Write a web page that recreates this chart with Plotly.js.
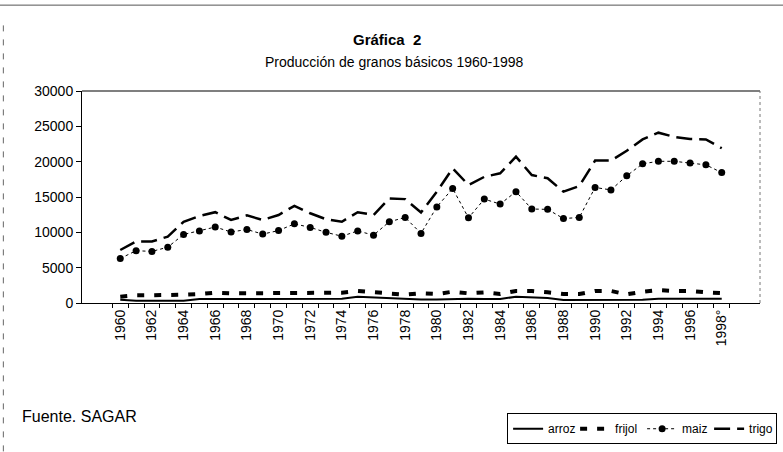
<!DOCTYPE html>
<html>
<head>
<meta charset="utf-8">
<script src="https://cdn.plot.ly/plotly-3.0.1.min.js"></script>
<style>
html,body{margin:0;padding:0;background:#fff;}
#chart{width:783px;height:452px;}
</style>
</head>
<body>
<div id="chart"></div>
<script>
const years = ['1960','1961','1962','1963','1964','1965','1966','1967','1968','1969',
  '1970','1971','1972','1973','1974','1975','1976','1977','1978','1979',
  '1980','1981','1982','1983','1984','1985','1986','1987','1988','1989',
  '1990','1991','1992','1993','1994','1995','1996','1997','1998°'];

const arroz = [450,330,330,320,330,560,560,550,560,560,
  560,550,560,560,600,900,800,700,500,500,
  500,600,600,550,550,900,850,700,430,430,
  430,420,430,450,600,600,600,600,600];

const frijol = [890,1090,1090,1090,1180,1270,1460,1370,1370,1370,
  1370,1370,1460,1370,1460,1700,1560,1370,1180,1370,
  1270,1600,1370,1510,1270,1700,1700,1510,1270,1270,
  1700,1700,1230,1600,1840,1700,1700,1510,1400];

const maiz = [6300,7400,7300,7900,9700,10200,10750,10050,10400,9750,
  10250,11200,10700,10000,9450,10200,9600,11500,12100,9850,
  13600,16200,12050,14700,14000,15750,13300,13250,11950,12100,
  16350,16000,18000,19700,20050,20050,19800,19550,18450];

const trigo = [7500,8700,8700,9400,11500,12300,12850,11750,12400,11750,
  12450,13750,12700,11850,11500,12850,12450,14800,14700,12800,
  15750,19050,16700,17850,18350,20700,18100,17650,15750,16550,
  20150,20150,21550,23150,24100,23500,23200,23150,21900];

const yTicks = [0,5000,10000,15000,20000,25000,30000];
const yTickText = yTicks.map(v => String(v));
const tickText = years.map((y,i) => (i % 2 === 0 ? y : ''));

const FONT = 'Liberation Sans, Arial, sans-serif';

const traces = [
  {name:'arroz', x:years, y:arroz, type:'scatter', mode:'lines',
   line:{color:'#000', width:2}},
  {name:'frijol', x:years, y:frijol, type:'scatter', mode:'lines',
   line:{color:'#000', width:4, dash:'7px,10px'}},
  {name:'maiz', x:years, y:maiz, type:'scatter', mode:'lines+markers',
   line:{color:'#000', width:1, dash:'dot'},
   marker:{color:'#000', size:7, symbol:'circle'}},
  {name:'trigo', x:years, y:trigo, type:'scatter', mode:'lines',
   line:{color:'#000', width:2.5, dash:'16px,7px'}}
];

const layout = {
  width:783, height:452,
  margin:{l:82, r:23, t:91, b:149, autoexpand:false},
  paper_bgcolor:'#fff', plot_bgcolor:'#fff',
  font:{family:FONT, color:'#000', size:13},
  showlegend:true,
  legend:{orientation:'h', x:0.627, xanchor:'left', y:-0.52, yanchor:'top',
    bordercolor:'#000', borderwidth:1, bgcolor:'#fff',
    font:{family:FONT, size:12, color:'#000'}, tracegroupgap:0, itemwidth:30,
    entrywidth:22, entrywidthmode:'pixels'},
  xaxis:{type:'category', categoryorder:'array', categoryarray:years,
    tickmode:'array', tickvals:years, ticktext:tickText, tickson:'boundaries',
    ticks:'outside', ticklen:4, tickcolor:'#000', tickwidth:1,
    tickangle:-90, showline:true, linecolor:'#000', linewidth:1,
    showgrid:false, zeroline:false,
    tickfont:{family:FONT, size:14, color:'#000'}},
  yaxis:{range:[0,30000], tickmode:'array', tickvals:yTicks, ticktext:yTickText,
    ticks:'outside', ticklen:5, tickcolor:'#000', showline:true,
    linecolor:'#000', linewidth:1, showgrid:false, zeroline:false,
    tickfont:{family:FONT, size:14, color:'#000'}},
  shapes:[
    {type:'line', xref:'paper', yref:'paper', x0:0, x1:1, y0:1, y1:1,
     line:{color:'#000', width:1.2}},
    {type:'line', xref:'paper', yref:'paper', x0:1, x1:1, y0:0, y1:1,
     line:{color:'#777', width:1, dash:'dot'}},
    {type:'line', xref:'paper', yref:'paper', x0:-0.121, x1:1.035, y0:1.405, y1:1.405,
     line:{color:'#555', width:1}},
    {type:'line', xref:'paper', yref:'paper', x0:-0.116, x1:-0.116, y0:-0.70, y1:1.33,
     line:{color:'#666', width:1, dash:'6px,8px'}}
  ],
  annotations:[
    {text:'<b>Gráfica  2</b>', xref:'paper', yref:'paper', x:0.45, y:1.245,
     xanchor:'center', yanchor:'middle', showarrow:false,
     font:{family:FONT, size:15, color:'#000'}},
    {text:'Producción de granos básicos 1960-1998', xref:'paper', yref:'paper',
     x:0.267, y:1.137, xanchor:'left', yanchor:'middle', showarrow:false,
     font:{family:FONT, size:14, color:'#000'}},
    {text:'Fuente. SAGAR', xref:'paper', yref:'paper', x:-0.092, y:-0.535,
     xanchor:'left', yanchor:'middle', showarrow:false,
     font:{family:FONT, size:16, color:'#000'}}
  ]
};

Plotly.newPlot('chart', traces, layout, {staticPlot:true, displayModeBar:false});
</script>
</body>
</html>
